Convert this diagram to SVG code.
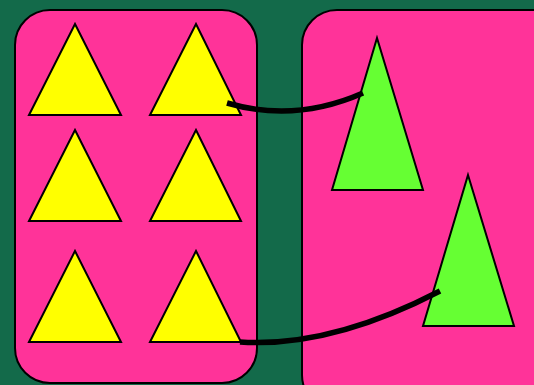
<svg xmlns="http://www.w3.org/2000/svg" width="534" height="385" viewBox="0 0 534 385">
<style>
.box{fill:#ff3399;stroke:#000;stroke-width:2}
.yel{fill:#ffff00;stroke:#000;stroke-width:2}
.grn{fill:#66ff33;stroke:#000;stroke-width:2}
.con{fill:none;stroke:#000;stroke-width:5.5}
</style>
<rect x="0" y="0" width="534" height="385" fill="#136a4a"/>
<g id="leftBox"><rect class="box" x="15" y="10" width="242" height="373" rx="35"/></g>
<g id="rightBox"><rect class="box" x="302" y="10" width="270" height="400" rx="35"/></g>
<g id="y1"><polygon class="yel" points="75,24 121,115 29,115"/></g>
<g id="y2"><polygon class="yel" points="196,24 241,115 150,115"/></g>
<g id="y3"><polygon class="yel" points="75,130 121,221 29,221"/></g>
<g id="y4"><polygon class="yel" points="196,130 241,221 150,221"/></g>
<g id="y5"><polygon class="yel" points="75,251 121,342 29,342"/></g>
<g id="y6"><polygon class="yel" points="196,251 241,342 150,342"/></g>
<g id="g1"><polygon class="grn" points="377,38 423,190 332,190"/></g>
<g id="g2"><polygon class="grn" points="468,175 514,326 423,326"/></g>
<g id="connectors">
<path class="con" d="M227,103 Q295,123 363,93"/>
<path class="con" d="M240,342 Q330,348 440,291"/>
</g>
</svg>
